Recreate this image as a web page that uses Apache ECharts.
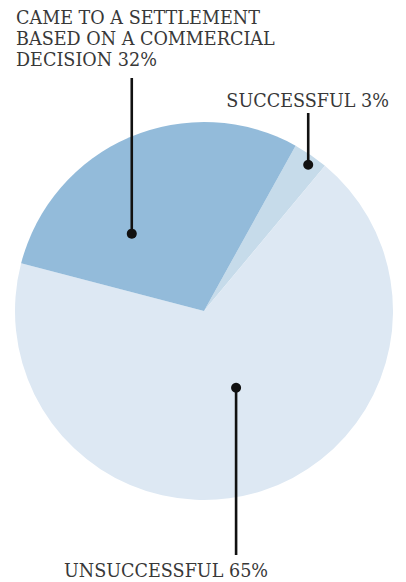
<!DOCTYPE html>
<html>
<head>
<meta charset="utf-8">
<script src="https://cdn.jsdelivr.net/npm/echarts@6/dist/echarts.min.js"></script>
<style>
html,body{margin:0;padding:0;background:#fff;}
#chart{width:406px;height:582px;}
</style>
</head>
<body>
<div id="chart"></div>
<script>
// Data (clockwise order starting at the top-right boundary)
var categories = ['SUCCESSFUL', 'UNSUCCESSFUL', 'CAME TO A SETTLEMENT BASED ON A COMMERCIAL DECISION'];
// slice shares as drawn in the picture (angles measured)
var sliceValues = [3, 68, 29];
// percentages as printed on the labels
var labelPercents = ['3%', '65%', '32%'];
var sliceColors = ['#c6dbea', '#dde8f3', '#93bbda'];

var chart = echarts.init(document.getElementById('chart'), null, {renderer: 'svg'});
var CX = 204, CY = 311, R = 189, START = 61;

// annotation styling: where inside each slice the dot sits (fraction of angle, fraction of radius)
var dotPos = [[0.6, 0.95], [0.48, 0.44], [0.31, 0.56]];
var textFont = '17.6px "DejaVu Serif", serif';
var textColor = '#383838';

var total = sliceValues.reduce(function (a, b) { return a + b; }, 0);
var graphics = [];
var acc = 0;
var labelSpec = [
  {lines: [categories[0] + ' ' + labelPercents[0]], x: 389, y: 91, align: 'right', lineEndY: 113},
  {lines: [categories[1] + ' ' + labelPercents[1]], x: 64, y: 561, align: 'left', lineEndY: 555},
  {lines: ['CAME TO A SETTLEMENT', 'BASED ON A COMMERCIAL', 'DECISION ' + labelPercents[2]], x: 16, y: 8, align: 'left', lineEndY: 78}
];
for (var i = 0; i < sliceValues.length; i++) {
  var a0 = acc / total * 360, a1 = (acc + sliceValues[i]) / total * 360;
  acc += sliceValues[i];
  // clockwise degrees from top -> screen coords
  var ang = (a0 + dotPos[i][0] * (a1 - a0)) * Math.PI / 180 + (90 - START) * Math.PI / 180;
  var px = CX + dotPos[i][1] * R * Math.sin(ang);
  var py = CY - dotPos[i][1] * R * Math.cos(ang);
  var spec = labelSpec[i];
  graphics.push({
    type: 'line', z: 10,
    shape: {x1: px, y1: py, x2: px, y2: spec.lineEndY},
    style: {stroke: '#111', lineWidth: 2.6}
  });
  graphics.push({
    type: 'circle', z: 11,
    shape: {cx: px, cy: py, r: 5},
    style: {fill: '#111'}
  });
  graphics.push({
    type: 'text', z: 12,
    x: spec.x, y: spec.y,
    style: {
      text: spec.lines.join('\n'),
      font: textFont,
      fill: textColor,
      align: spec.align,
      verticalAlign: 'top',
      lineHeight: 20.8
    }
  });
}

chart.setOption({
  animation: false,
  series: [{
    type: 'pie',
    center: [CX, CY],
    radius: [0, R],
    startAngle: START,
    clockwise: true,
    label: {show: false},
    labelLine: {show: false},
    emphasis: {disabled: true},
    itemStyle: {borderWidth: 0},
    data: sliceValues.map(function (v, i) {
      return {name: categories[i], value: v, itemStyle: {color: sliceColors[i]}};
    })
  }],
  graphic: graphics
});
</script>
</body>
</html>
